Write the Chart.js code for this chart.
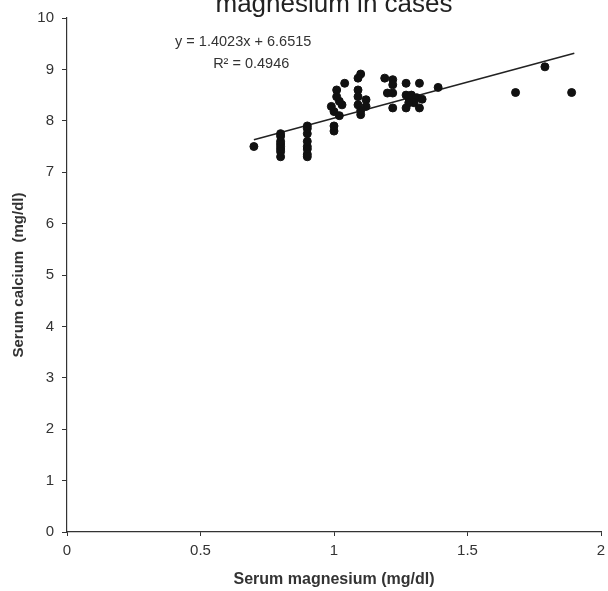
<!DOCTYPE html>
<html>
<head>
<meta charset="utf-8">
<script src="https://cdn.jsdelivr.net/npm/chart.js@4/dist/chart.umd.min.js"></script>
<style>
  html, body { margin: 0; padding: 0; background: #fff; }
  #wrap { width: 608px; height: 591px; }
</style>
</head>
<body>
<div id="wrap"><canvas id="scatter" width="608" height="591"></canvas></div>
<script>
// values
const magnesium = [
  0.70,
  0.80, 0.80, 0.80, 0.80, 0.80, 0.80, 0.80, 0.80,
  0.90, 0.90, 0.90, 0.90, 0.90, 0.90, 0.90, 0.90,
  1.00, 1.00, 1.00, 0.99, 1.02, 1.03, 1.02, 1.01, 1.01, 1.04,
  1.10, 1.09, 1.09, 1.09, 1.12, 1.09, 1.12, 1.10, 1.10,
  1.19, 1.22, 1.22, 1.20, 1.22, 1.22,
  1.27, 1.32, 1.27, 1.29, 1.28, 1.31, 1.33, 1.30, 1.28, 1.27, 1.32,
  1.39, 1.68, 1.79, 1.89
];
const calcium = [
  7.50,
  7.30, 7.40, 7.45, 7.50, 7.55, 7.60, 7.70, 7.75,
  7.30, 7.35, 7.45, 7.50, 7.60, 7.75, 7.85, 7.90,
  7.80, 7.90, 8.18, 8.28, 8.10, 8.31, 8.38, 8.47, 8.60, 8.73,
  8.91, 8.83, 8.60, 8.47, 8.41, 8.31, 8.28, 8.12, 8.20,
  8.83, 8.80, 8.70, 8.54, 8.54, 8.25,
  8.73, 8.73, 8.50, 8.50, 8.45, 8.45, 8.42, 8.35, 8.35, 8.25, 8.25,
  8.65, 8.55, 9.05, 8.55
];
const slope = 1.4023;
const intercept = 6.6515;
const rSquared = '0.4946';
const trendRange = [0.7, 1.9];
const xTicks = [0, 0.5, 1, 1.5, 2];
const yTicks = [0, 1, 2, 3, 4, 5, 6, 7, 8, 9, 10];

const FONT = '"Liberation Sans", Arial, sans-serif';
const INK = '#333';

const points = magnesium.map((m, i) => ({x: m, y: calcium[i]}));
const trend = trendRange.map(x => ({x: x, y: slope * x + intercept}));

const textPlugin = {
  id: 'chartText',
  afterDraw(chart) {
    const c = chart.ctx;
    const xs = chart.scales.x, ys = chart.scales.y;
    const area = chart.chartArea;
    c.save();
    c.fillStyle = '#222';
    c.textAlign = 'center';
    c.textBaseline = 'alphabetic';
    c.font = '26px ' + FONT;
    c.fillText('magnesium in cases', (area.left + area.right) / 2, 12);
    c.fillStyle = INK;
    c.font = '14.5px ' + FONT;
    c.fillText('y = ' + slope + 'x + ' + intercept, xs.getPixelForValue(0.66), ys.getPixelForValue(9.45));
    c.fillText('R\u00b2 = ' + rSquared, xs.getPixelForValue(0.69), ys.getPixelForValue(9.03));
    c.restore();
  }
};

const ctx = document.getElementById('scatter').getContext('2d');

const chart = new Chart(ctx, {
  type: 'scatter',
  data: {
    datasets: [
      {data: points, backgroundColor: '#111', borderColor: '#111', pointRadius: 4, pointHoverRadius: 4},
      {type: 'line', data: trend, borderColor: '#222', borderWidth: 1.6, pointRadius: 0, fill: false}
    ]
  },
  options: {
    responsive: false,
    animation: false,
    events: [],
    layout: {padding: {top: 18, right: 7, left: 0, bottom: 0}},
    plugins: {legend: {display: false}, title: {display: false}, tooltip: {enabled: false}},
    scales: {
      x: {
        type: 'linear', min: 0, max: 2,
        afterBuildTicks: s => { s.ticks = xTicks.map(v => ({value: v})); },
        afterFit: s => { s.height = 59; s.paddingRight = 0; },
        grid: {drawOnChartArea: false, drawTicks: true, tickLength: 4, color: INK, tickColor: INK},
        border: {color: INK, width: 1.2},
        ticks: {color: INK, font: {family: FONT, size: 15}, padding: 6, maxRotation: 0,
                callback: v => String(v)},
        title: {display: true, text: 'Serum magnesium (mg/dl)', color: INK,
                font: {family: FONT, size: 16, weight: 'bold'}, padding: {top: 0, bottom: 2}}
      },
      y: {
        type: 'linear', min: 0, max: 10,
        afterBuildTicks: s => { s.ticks = yTicks.map(v => ({value: v})); },
        afterFit: s => { s.width = 67; },
        grid: {drawOnChartArea: false, drawTicks: true, tickLength: 5, color: INK, tickColor: INK},
        border: {color: INK, width: 1.2},
        ticks: {color: INK, font: {family: FONT, size: 15}, padding: 8,
                callback: v => String(v)},
        title: {display: true, text: 'Serum calcium  (mg/dl)', color: INK,
                font: {family: FONT, size: 15, weight: 'bold'}, padding: {top: 10, bottom: 0}}
      }
    }
  },
  plugins: [textPlugin]
});
</script>
</body>
</html>
